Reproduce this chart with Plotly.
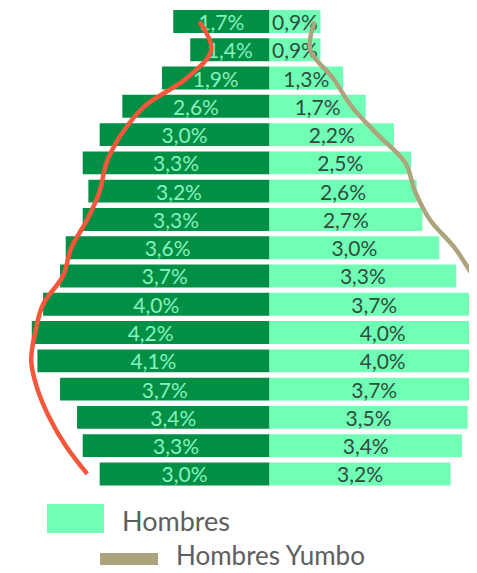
import plotly.graph_objects as go

# Age groups, top to bottom
age_groups = ["80+", "75-79", "70-74", "65-69", "60-64", "55-59", "50-54", "45-49",
              "40-44", "35-39", "30-34", "25-29", "20-24", "15-19", "10-14", "5-9", "0-4"]
mujeres = [1.7, 1.4, 1.9, 2.6, 3.0, 3.3, 3.2, 3.3, 3.6, 3.7, 4.0, 4.2, 4.1, 3.7, 3.4, 3.3, 3.0]
hombres = [0.9, 0.9, 1.3, 1.7, 2.2, 2.5, 2.6, 2.7, 3.0, 3.3, 3.7, 4.0, 4.0, 3.7, 3.5, 3.4, 3.2]
mujeres_yumbo = [1.24, 1.03, 1.46, 2.21, 2.62, 2.88, 3.0, 3.22, 3.5, 3.65, 4.0, 4.14, 4.21, 4.1, 3.89, 3.6, 3.22]
hombres_yumbo = [0.8, 0.72, 1.12, 1.45, 1.91, 2.4, 2.57, 2.83, 3.27, 3.6, 3.95, 4.05, 4.1, 4.05, 3.95, 3.8, 3.55]

def fmt(v):
    return f"{v:.1f}".replace(".", ",") + "%"

OFF = 8  # page body margin
W, H = 469, 565
MT, MB = 0, 85
PH = H - MT - MB

def py(ypx):
    return (MT + PH - (ypx - OFF)) / PH

def px(xpx):
    return (xpx - OFF) / W

fig = go.Figure()
fig.add_trace(go.Bar(
    y=age_groups, x=[-v for v in mujeres], orientation="h", name="Mujeres",
    marker=dict(color="#008F45", line=dict(width=0)),
    text=[fmt(v) for v in mujeres], textposition="inside", insidetextanchor="middle",
    textangle=0, constraintext="none",
    textfont=dict(family="Lato", size=21, color="#86F2BE"),
    showlegend=False,
))
fig.add_trace(go.Bar(
    y=age_groups, x=hombres, orientation="h", name="Hombres",
    marker=dict(color="#70FFB5", line=dict(width=0)),
    text=[fmt(v) for v in hombres], textposition="inside", insidetextanchor="middle",
    textangle=0, constraintext="none",
    textfont=dict(family="Lato", size=21, color="#2E4D3E"),
    showlegend=False,
))
fig.add_trace(go.Scatter(
    y=age_groups, x=[-v for v in mujeres_yumbo], mode="lines", name="Mujeres Yumbo",
    line=dict(color="#F5573B", width=4.5, shape="spline"), showlegend=False,
))
fig.add_trace(go.Scatter(
    y=age_groups, x=hombres_yumbo, mode="lines", name="Hombres Yumbo",
    line=dict(color="#ADA37C", width=4.5, shape="spline"), showlegend=False,
))

fig.update_layout(
    width=W, height=H,
    margin=dict(l=0, r=0, t=MT, b=MB, pad=0),
    barmode="relative", bargap=0.19,
    plot_bgcolor="white", paper_bgcolor="white",
    xaxis=dict(visible=False, range=[-4.620, 3.666], fixedrange=True),
    yaxis=dict(visible=False, type="category", categoryorder="array",
               categoryarray=age_groups, range=[16.497, -0.477]),
    shapes=[
        dict(type="rect", xref="paper", yref="paper",
             x0=px(47), x1=px(104), y0=py(504), y1=py(533),
             fillcolor="#70FFB5", line=dict(width=0)),
        dict(type="rect", xref="paper", yref="paper",
             x0=px(100), x1=px(158), y0=py(553), y1=py(565),
             fillcolor="#ADA37C", line=dict(width=0)),
    ],
    annotations=[
        dict(text="Hombres", xref="paper", yref="paper", x=px(121), y=py(520),
             xanchor="left", yanchor="middle", showarrow=False, borderpad=0,
             font=dict(family="Lato", size=27, color="#5E5E5E")),
        dict(text="Hombres Yumbo", xref="paper", yref="paper", x=px(175), y=py(555),
             xanchor="left", yanchor="middle", showarrow=False, borderpad=0,
             font=dict(family="Lato", size=26, color="#5E5E5E")),
    ],
)

fig.write_html("out.html")
